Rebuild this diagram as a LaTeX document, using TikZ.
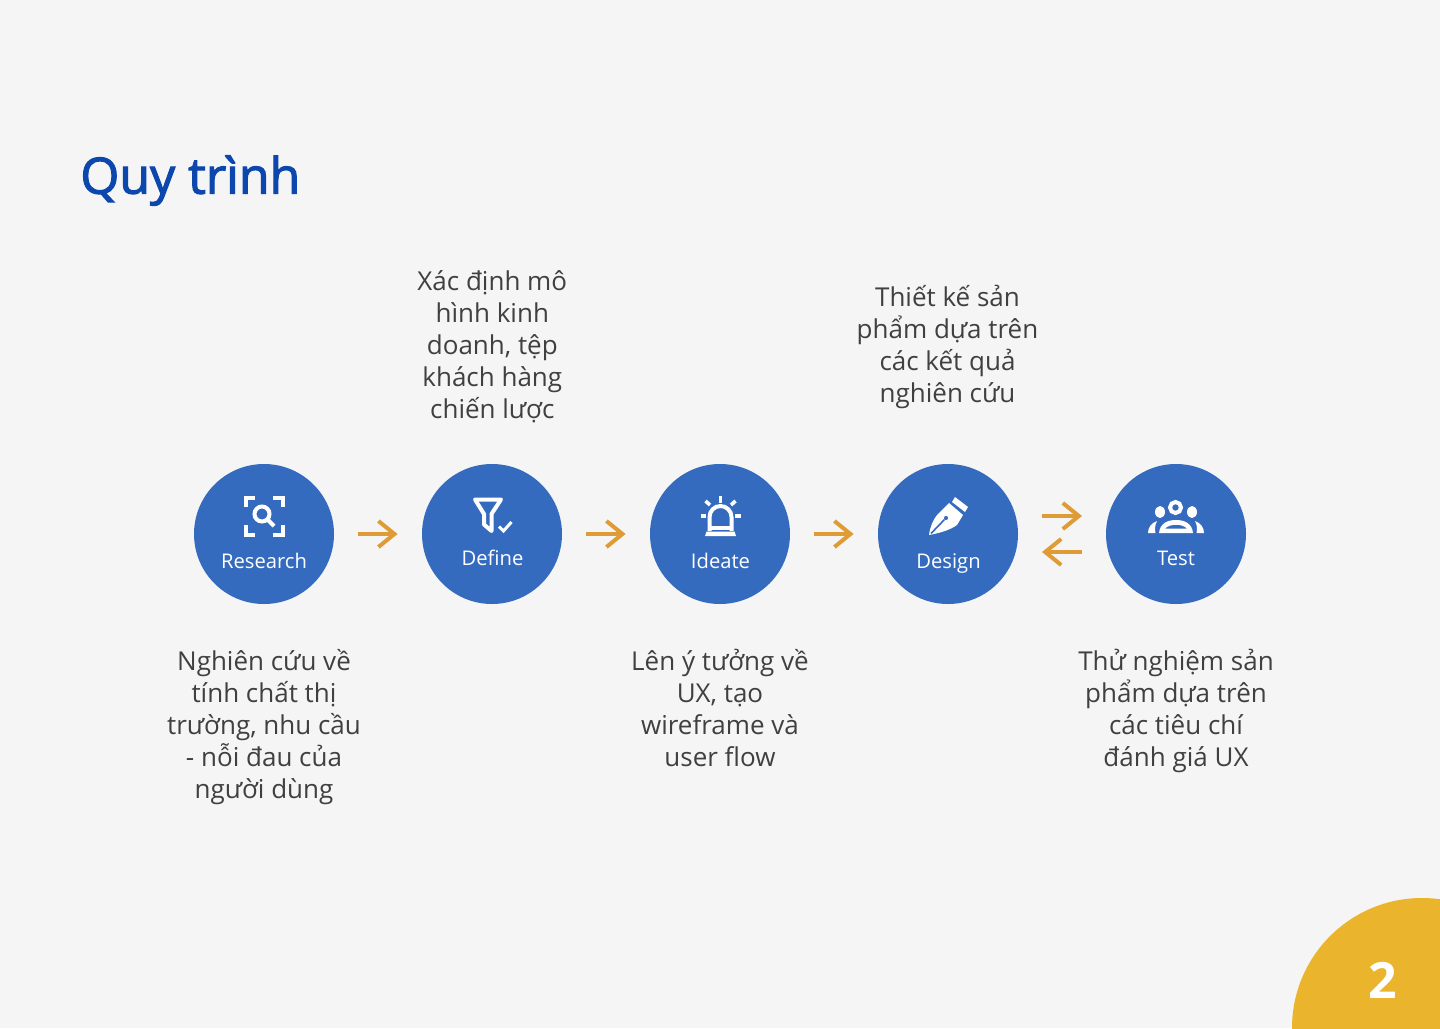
\documentclass[tikz,border=0pt]{standalone}
\usepackage{fontspec}
\setmainfont{Open Sans}
\newfontfamily\titlefont[FakeBold=2.2]{Open Sans}
\usetikzlibrary{arrows.meta}
\definecolor{bg}{HTML}{F5F5F5}
\definecolor{stepblue}{HTML}{356BBE}
\definecolor{titleblue}{HTML}{0B47AD}
\definecolor{flow}{HTML}{DF9B36}
\definecolor{badge}{HTML}{EAB42C}
\definecolor{bodytext}{HTML}{404040}
\newcommand\dl{\rule[-4pt]{0pt}{16pt}}
\tikzset{
  x=0.5pt,y=-0.5pt,
  stepnode/.style={circle,fill=stepblue,minimum size=70pt,inner sep=0pt},
  steplabel/.style={text=white,font=\fontsize{10.1}{12}\selectfont,inner sep=0pt,text height=8pt,text depth=2.5pt,anchor=center},
  desc/.style={text=bodytext,font=\fontsize{13}{16}\selectfont,align=center,inner sep=0pt,anchor=center},
  flowline/.style={draw=flow,line width=2pt,-{Straight Barb[length=8pt,width=13pt,line width=2pt]}},
  icon/.style={draw=white,line width=2pt,fill=none},
}
\begin{document}
\begin{tikzpicture}
\useasboundingbox (0,0) rectangle (1440,1028);
\fill[bg] (0,0) rectangle (1440,1028);
\begin{scope}
\clip (0,0) rectangle (1440,1028);
\fill[badge] (1422,1028) circle[radius=130];
\end{scope}
\node[text=white,inner sep=0pt,font=\fontsize{25}{30}\selectfont\bfseries] (pageno) at (1382.5,980) {2};
\node[text=titleblue,inner sep=0pt,anchor=west,font=\fontsize{25}{30}\selectfont\titlefont] (title) at (80,180.5) {Quy trình};

\node[stepnode] (research) at (264,534) {};
\node[stepnode] (define) at (492,534) {};
\node[stepnode] (ideate) at (720,534) {};
\node[stepnode] (design) at (948,534) {};
\node[stepnode] (test) at (1176,534) {};

\node[steplabel] (lresearch) at (264,563) {Research};
\node[steplabel] (ldefine) at (492.5,560) {Define};
\node[steplabel] (lideate) at (720.5,563) {Ideate};
\node[steplabel] (ldesign) at (948.5,563) {Design};
\node[steplabel] (ltest) at (1176,560) {Test};

\node[desc] (dresearch) at (264,726) {\dl Nghiên cứu về\\tính chất thị\\trường, nhu cầu\\- nỗi đau của\\người dùng\dl};
\node[desc] (ddefine) at (492.3,346) {\dl Xác định mô\\hình kinh\\doanh, tệp\\khách hàng\\chiến lược\dl};
\node[desc] (dideate) at (720,710) {\dl Lên ý tưởng về\\UX, tạo\\wireframe và\\user flow\dl};
\node[desc] (ddesign) at (947.5,346) {\dl Thiết kế sản\\phẩm dựa trên\\các kết quả\\nghiên cứu\dl};
\node[desc] (dtest) at (1176,710) {\dl Thử nghiệm sản\\phẩm dựa trên\\các tiêu chí\\đánh giá UX\dl};

\draw[flowline,shorten <=12pt,shorten >=12pt] (research.east) -- (define.west);
\draw[flowline,shorten <=12pt,shorten >=12pt] (define.east) -- (ideate.west);
\draw[flowline,shorten <=12pt,shorten >=12pt] (ideate.east) -- (design.west);
\coordinate (fwdA) at (1018,516);
\coordinate (fwdB) at (1106,516);
\coordinate (backA) at (1106,552);
\coordinate (backB) at (1018,552);
\draw[flowline,shorten <=12pt,shorten >=12pt] (fwdA) -- (fwdB);
\draw[flowline,shorten <=12pt,shorten >=12pt] (backA) -- (backB);

% research icon
\begin{scope}[icon,line cap=butt]
\draw (245.5,507) -- (245.5,497.5) -- (255,497.5);
\draw (273,497.5) -- (282.5,497.5) -- (282.5,507);
\draw (245.5,525) -- (245.5,534.5) -- (255,534.5);
\draw (273,534.5) -- (282.5,534.5) -- (282.5,525);
\draw (262,514) circle[radius=7.5];
\draw (267.5,519.5) -- (274,526);
\end{scope}
% define icon
\draw[icon,line join=round] (475,499.5) -- (501,499.5) -- (491.5,514) -- (491.5,531) -- (484,524.5) -- (484,514) -- cycle;
\draw[draw=white,line width=1.5pt] (499,526.5) -- (503.5,531) -- (511.5,522);
% ideate icon
\begin{scope}[icon]
\draw (709.5,531) -- (709.5,517) arc[start angle=180,end angle=360,radius=11] -- (731.5,531);
\draw (709.5,527.5) -- (731.5,527.5);
\draw[line width=1.8pt] (720.5,496) -- (720.5,502.5);
\draw[line width=1.8pt] (705.5,501) -- (710,505);
\draw[line width=1.8pt] (735.5,501) -- (731,505);
\draw[line width=1.8pt] (700.5,516) -- (706,516);
\draw[line width=1.8pt] (735,516) -- (741,516);
\end{scope}
\fill[white] (705,536) -- (706.5,531.5) -- (734.5,531.5) -- (736,536) -- cycle;
% design icon
\fill[white,even odd rule] (929,535) .. controls (930,527) and (933,520) .. (937,515) -- (949,503) -- (963,515) -- (957,525) .. controls (950,530) and (940,533) .. (929,535) -- cycle
 (946,518) circle[radius=2.2];
\draw[stepblue,line width=0.8pt] (931,533.5) -- (944.5,519.5);
\fill[white] (952,502) -- (955,497) -- (968,507) -- (965,512) -- cycle;
% test icon
\draw[icon] (1175.5,507.5) circle[radius=5.5];
\fill[white] (1160,512) ellipse[x radius=5,y radius=6];
\fill[white] (1192,512) ellipse[x radius=5,y radius=6];
\fill[white,even odd rule] (1159,533) .. controls (1160,523) and (1168,520) .. (1176,520) .. controls (1184,520) and (1192,523) .. (1193,533) -- cycle
 (1165,528.5) .. controls (1170,523.5) and (1182,523.5) .. (1187,528.5) -- cycle;
\fill[white] (1148,533) .. controls (1148,528) and (1151,523) .. (1157,521) .. controls (1155,525) and (1154.5,529) .. (1155.5,533) -- cycle;
\fill[white] (1204,533) .. controls (1204,528) and (1201,523) .. (1195,521) .. controls (1197,525) and (1197.5,529) .. (1196.5,533) -- cycle;
\end{tikzpicture}
\end{document}
